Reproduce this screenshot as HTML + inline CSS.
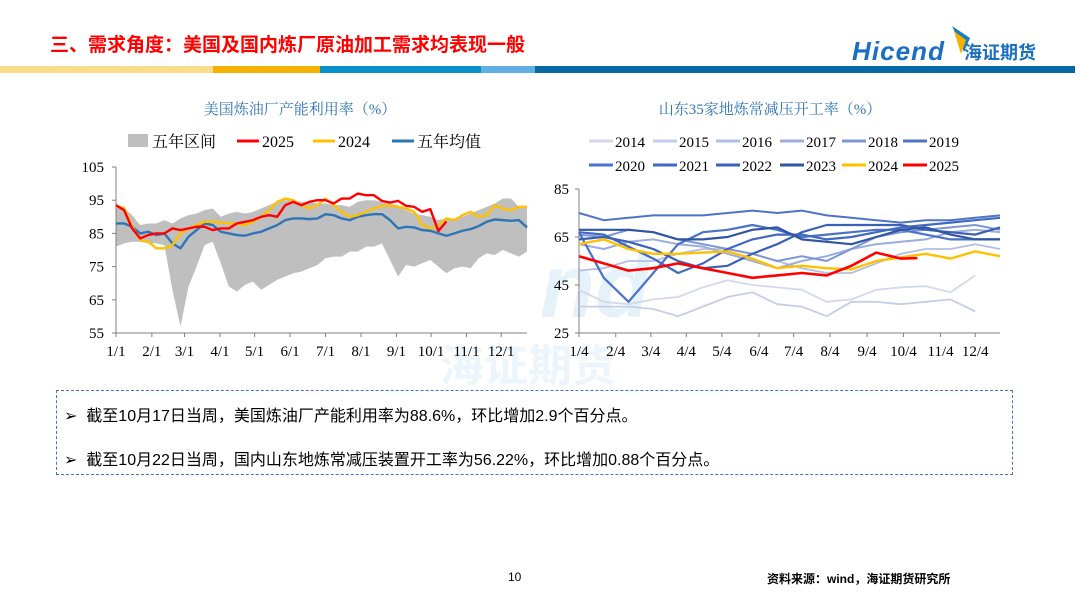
<!DOCTYPE html>
<html><head><meta charset="utf-8">
<style>
body{margin:0;background:#fff;}
#page{position:relative;width:1080px;height:607px;overflow:hidden;background:#fff;font-family:"Liberation Sans","Noto Sans CJK SC",sans-serif;}
.abs{position:absolute;}
</style></head>
<body>
<div id="page">
  <div class="abs" style="left:50px;top:30px;font-size:19px;font-weight:bold;color:#f00;font-family:'Liberation Sans','Noto Sans CJK SC',sans-serif;">三、需求角度：美国及国内炼厂原油加工需求均表现一般</div>
  <div class="abs" style="left:852px;top:24px;width:210px;height:42px;">
    <svg width="210" height="42">
      <polygon points="100,2 118,14 112,28" fill="#1a7dc4"/>
      <polygon points="102,7 114,16 109,30" fill="#f5b000"/>
      <text x="0" y="36" font-family="Liberation Sans,sans-serif" font-size="26" font-style="italic" font-weight="bold" fill="#1a6fc0" textLength="92">Hicend</text>
      <text x="112" y="35" font-family="'Noto Sans CJK SC',sans-serif" font-size="18" font-weight="bold" fill="#1a6fc0">海证期货</text>
    </svg>
  </div>
  <div class="abs" style="left:0;top:66px;width:1075px;height:7px;display:flex;">
    <div style="width:213px;background:#fadc8c"></div><div style="width:107px;background:#f5b000"></div><div style="width:161px;background:#0a8fcd"></div><div style="width:54px;background:#5fb0e0"></div><div style="width:540px;background:#0669a6"></div>
  </div>
  <div class="abs" style="left:540px;top:236px;font-size:90px;font-weight:bold;font-style:italic;color:#5fb0e0;opacity:0.15;font-family:'Liberation Sans',sans-serif;">nd</div>
  <div class="abs" style="left:440px;top:330px;font-size:44px;font-weight:bold;color:#5fb0e0;opacity:0.12;font-family:'Noto Sans CJK SC',sans-serif;">海证期货</div>

  <svg class="abs" id="c1" style="left:0;top:80px" width="540" height="290"></svg>
  <svg class="abs" id="c2" style="left:540px;top:80px" width="480" height="290"></svg>

  <div class="abs" style="left:56px;top:390px;width:955px;height:83px;border:1.5px dashed #4472c4;"></div>
  <div class="abs" style="left:64px;top:402px;font-size:16px;color:#000;">➢&nbsp;&nbsp;截至10月17日当周，美国炼油厂产能利用率为88.6%，环比增加2.9个百分点。</div>
  <div class="abs" style="left:64px;top:446px;font-size:16px;color:#000;">➢&nbsp;&nbsp;截至10月22日当周，国内山东地炼常减压装置开工率为56.22%，环比增加0.88个百分点。</div>
  <div class="abs" style="left:508px;top:570px;font-size:12px;">10</div>
  <div class="abs" style="left:767px;top:570px;font-size:12px;font-weight:bold;">资料来源：wind，海证期货研究所</div>
</div>
<script>
// ---- Chart 1 data (weekly, 52 weeks) ----
const c1Months = ["1/1","2/1","3/1","4/1","5/1","6/1","7/1","8/1","9/1","10/1","11/1","12/1"];
const c1Ticks = [55,65,75,85,95,105];
const bandUpper = [93.5,92.5,90.5,87.5,88,88,89,88,89.5,90.5,91,92,92.5,90,91,91.5,91,91.5,92.5,93.5,94.5,95,95,94.5,94.5,94,94,93.5,93.5,93,94.5,95,95,94.5,94,93.5,92,91,90.5,90,89,89.5,89.5,90,91,92,93,94,95.5,95.5,93,93];
const bandLower = [81,82,82.5,82.5,82,82,81.5,68,57,69,75,81.5,82.5,76,69,67.5,69.5,70.5,68,69.5,71,72,73,73.5,74.5,75.5,77.5,78,78,79.5,79.5,81,81,82,77,72,75.5,75,76,77,75,73,74.5,75,74.5,77.5,79,78.5,80,79,78,79.5];
const avg5 = [88,88,87,85,85.5,84.5,85,82,80.5,84,86,88,87.5,85.5,85,84.5,84.3,85,85.5,86.5,87.5,89,89.5,89.5,89.3,89.5,90.8,90.5,89.5,89,90,90.5,90.8,90.8,89,86.5,87,86.8,86,85.8,85,84.3,85,85.8,86.3,87.2,88.5,89.2,89,88.8,89,86.8];
const y2024 = [93,92.7,87,83,82.5,80.5,80.5,81.5,85,86.5,87.5,88.5,88.5,88.3,88,88,87.5,88.5,90,92,94.5,95.5,95,93.5,92.5,93.5,95.5,93.5,91.5,90,90.5,91.5,92.5,93.3,93.3,93,92.5,91.5,87.5,86.5,87.5,89.5,89,90.5,91.5,90,90.5,93.5,92.5,92,93,93];
const y2025 = [93.5,92,86.5,83.5,84.5,85,85,86.5,86,86.5,87,87,86,86.5,86.5,88,88.5,89,90,90.5,90,93.5,94.5,93.5,94.5,95,95,94,95.5,95.5,97,96.5,96.5,94.8,94.3,94.8,93.3,93,91.5,92.3,85.7,88.6];

// ---- Chart 2 data (every 3 weeks) ----
const c2Months = ["1/4","2/4","3/4","4/4","5/4","6/4","7/4","8/4","9/4","10/4","11/4","12/4"];
const c2Ticks = [25,45,65,85];
const c2Weeks = [0,3,6,9,12,15,18,21,24,27,30,33,36,39,42,45,48,51];
const s2014 = [43,38,37,39,40,44,47,45,44,43,38,39,43,44,44.5,42,49];
const s2015 = [36,36,36,35,32,36,40,42,37,36,32,38,38,37,38,39,34];
const s2016 = [51,52,55,55,58,60,60,58,55,52,50,50,54,58,60,60,62,60];
const s2017 = [62,60,63,64,62,61,58,55,52,55,57,60,62,63,64,67,68,67];
const s2018 = [66,65,68,67,64,62,60,58,55,57,55,60,65,67,68,69,70,68];
const s2019 = [75,72,73,74,74,74,75,76,75,76,74,73,72,71,72,72,73,74];
const s2020 = [67,48,38,50,62,67,68,70,68,65,66,67,68,68,66,64,64,64];
const s2021 = [67,66,61,56,50,54,60,64,66,66,64,65,67,69,70,71,72,73];
const s2022 = [64,65,63,60,55,52,53,58,62,67,70,70,70,70,68,67,66,69];
const s2023 = [68,68,68,67,64,64,65,68,69,64,63,62,65,68,69,66,64,64];
const s2024 = [62,64,60,58,58,58.5,59,56,52,53,52,51.5,55,56.5,58,56,59,57];
const s2025 = [57,54,51,52,54,52,50,48,49,50,49,53,58.5,56,56.2];

const NS="http://www.w3.org/2000/svg";
function mk(svg,tag,attrs,txt){const e=document.createElementNS(NS,tag);for(const k in attrs)e.setAttribute(k,attrs[k]);if(txt!==undefined)e.textContent=txt;svg.appendChild(e);return e;}
const SERIF="Liberation Serif, 'Noto Serif CJK SC', serif";

// ---- Chart 1 ----
(function(){
  const svg=document.getElementById('c1');
  const X0=116,X1=527,Ytop=87,Ybot=253;
  const ymin=55,ymax=105;
  const xw=i=>X0+(X1-X0)*i/51;
  const yv=v=>Ybot-(v-ymin)/(ymax-ymin)*(Ybot-Ytop);
  let t=mk(svg,'text',{x:300,y:34,'text-anchor':'middle','font-size':15,fill:'#2e75b6','font-family':SERIF},'美国炼油厂产能利用率（%）');
  
  
  const lg=[['band','五年区间',128],['#f00','2025',237],['#ffc000','2024',313],['#2e75b6','五年均值',392]];
  lg.forEach(l=>{
    let g=mk(svg,'g',{});
    
    
    if(l[0]==='band') mk(g,'rect',{x:l[2],y:54,width:20,height:13,fill:'#bfbfbf'});
    else mk(g,'line',{x1:l[2],x2:l[2]+22,y1:61,y2:61,stroke:l[0],'stroke-width':3});
    mk(g,'text',{x:l[2]+(l[0]==='band'?24:25),y:67,'font-size':16,'font-family':SERIF,fill:'#000'},l[1]);
  });
  let pts=bandUpper.map((v,i)=>xw(i)+','+yv(v)).concat(bandLower.map((v,i)=>[i,v]).reverse().map(p=>xw(p[0])+','+yv(p[1])));
  let band=mk(svg,'polygon',{points:pts.join(' '),fill:'#bfbfbf'});
  
  
  mk(svg,'line',{x1:X0,x2:X0,y1:Ytop,y2:Ybot,stroke:'#808080'});
  mk(svg,'line',{x1:X0,x2:X1,y1:Ybot,y2:Ybot,stroke:'#808080'});
  c1Ticks.forEach(v=>{
    mk(svg,'line',{x1:X0-4,x2:X0,y1:yv(v),y2:yv(v),stroke:'#808080'});
    let tt=mk(svg,'text',{x:X0-12,y:yv(v)+5,'text-anchor':'end','font-size':15,'font-family':SERIF},String(v));
    
    
  });
  const mw=[0,4.45,8.5,12.9,17.2,21.6,26,30.4,34.8,39.1,43.5,47.8];
  c1Months.forEach((m,i)=>{
    const x=xw(mw[i]);
    mk(svg,'line',{x1:x,x2:x,y1:Ybot,y2:Ybot+4,stroke:'#808080'});
    let tt=mk(svg,'text',{x:x,y:Ybot+23,'text-anchor':'middle','font-size':15,'font-family':SERIF},m);
    
    
  });
  function line(arr,color,name){
    let p=mk(svg,'polyline',{points:arr.map((v,i)=>xw(i)+','+yv(v)).join(' '),fill:'none',stroke:color,'stroke-width':2.4,'stroke-linejoin':'round'});
    
    
  }
  line(avg5,'#2e75b6','line-five-year-avg');
  line(y2024,'#ffc000','line-2024');
  line(y2025,'#f00','line-2025');
})();

// ---- Chart 2 ----
(function(){
  const svg=document.getElementById('c2');
  const X0=39,X1=460,Ytop=109,Ybot=253;
  const ymin=25,ymax=85;
  const xw=w=>X0+(X1-X0)*w/51;
  const yv=v=>Ybot-(v-ymin)/(ymax-ymin)*(Ybot-Ytop);
  let t=mk(svg,'text',{x:230,y:34,'text-anchor':'middle','font-size':15,fill:'#2e75b6','font-family':SERIF},'山东35家地炼常减压开工率（%）');
  
  
  const series=[['2014',s2014,'#d3d8ec',1.8],['2015',s2015,'#c6cde8',1.8],['2016',s2016,'#b3bfe2',1.8],['2017',s2017,'#9aaddc',2],['2018',s2018,'#7d96d3',2],['2019',s2019,'#4f74c6',2],
    ['2020',s2020,'#4a72c8',2.2],['2021',s2021,'#4169bf',2.2],['2022',s2022,'#3a61b5',2.2],['2023',s2023,'#2f55a3',2.2],['2024',s2024,'#ffc000',2.4],['2025',s2025,'#ff0000',2.6]];
  const lx=[49,113,176,240,302,363];
  series.forEach((s,i)=>{
    const x=lx[i%6], y=i<6?61:85;
    let g=mk(svg,'g',{});
    
    
    mk(g,'line',{x1:x,x2:x+24,y1:y,y2:y,stroke:s[2],'stroke-width':3});
    mk(g,'text',{x:x+26,y:y+6,'font-size':15,'font-family':SERIF},s[0]);
  });
  mk(svg,'line',{x1:X0,x2:X0,y1:Ytop,y2:Ybot,stroke:'#808080'});
  mk(svg,'line',{x1:X0,x2:X1,y1:Ybot,y2:Ybot,stroke:'#808080'});
  c2Ticks.forEach(v=>{
    mk(svg,'line',{x1:X0-4,x2:X0,y1:yv(v),y2:yv(v),stroke:'#808080'});
    let tt=mk(svg,'text',{x:X0-10,y:yv(v)+5,'text-anchor':'end','font-size':15,'font-family':SERIF},String(v));
    
    
  });
  const mw=[0,4.45,8.7,13,17.3,21.8,26,30.4,34.9,39.3,43.8,48];
  c2Months.forEach((m,i)=>{
    const x=xw(mw[i]);
    mk(svg,'line',{x1:x,x2:x,y1:Ybot,y2:Ybot+4,stroke:'#808080'});
    let tt=mk(svg,'text',{x:x,y:Ybot+23,'text-anchor':'middle','font-size':15,'font-family':SERIF},m);
    
    
  });
  series.forEach(s=>{
    const arr=s[1];
    let wk=c2Weeks.slice(0,arr.length);
    if(s[0]==='2025') wk[wk.length-1]=41;
    let p=mk(svg,'polyline',{points:arr.map((v,i)=>xw(wk[i])+','+yv(v)).join(' '),fill:'none',stroke:s[2],'stroke-width':s[3],'stroke-linejoin':'round'});
    
    
  });
})();
</script>
</body></html>
